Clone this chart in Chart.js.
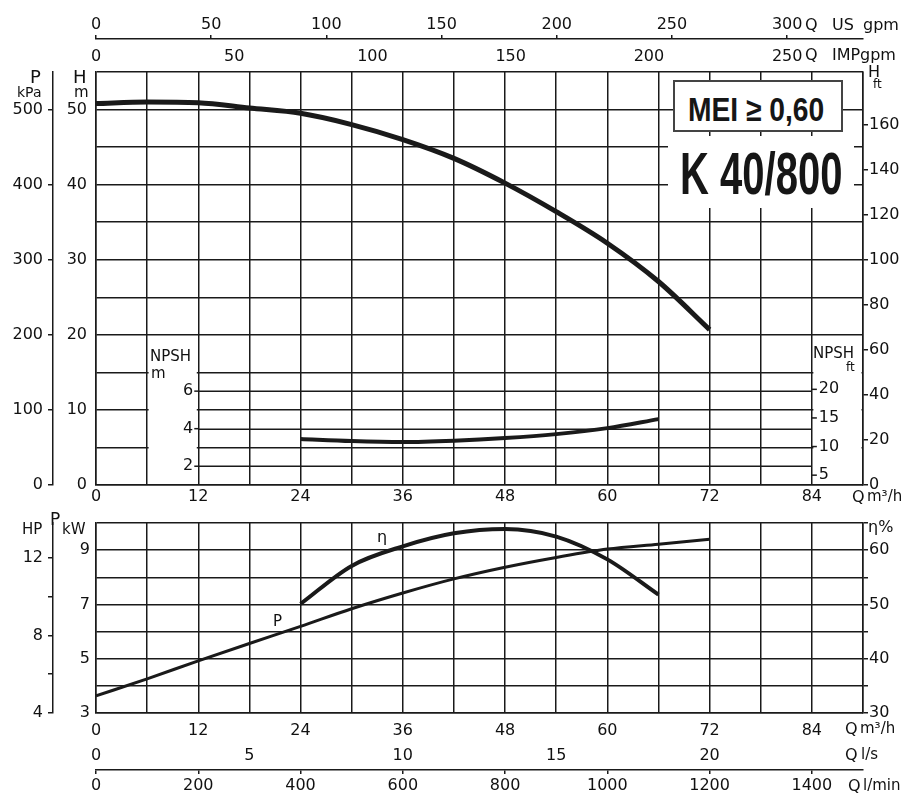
<!DOCTYPE html>
<html>
<head>
<meta charset="utf-8">
<script src="https://cdn.jsdelivr.net/npm/chart.js"></script>
<style>
html,body{margin:0;padding:0;background:#fff;width:915px;height:795px;overflow:hidden;}
body{font-family:"DejaVu Sans",sans-serif;color:#111;position:relative;}
#top{position:absolute;left:0;top:0;width:915px;height:510px;}
#bot{position:absolute;left:0;top:505px;width:915px;height:290px;}
.t{position:absolute;white-space:nowrap;line-height:1;font-size:16px;}
.s15{font-size:15px}.s14{font-size:14px}.s12{font-size:12px}.s18{font-size:18px}.s17{font-size:17px}
#mei{position:absolute;left:673px;top:80px;width:170px;height:52px;box-sizing:border-box;border:2px solid #444;background:#fff;}
#meiTxt{position:absolute;left:688px;top:93px;font:bold 33px "Liberation Sans",sans-serif;line-height:1;color:#161616;white-space:nowrap;transform:scaleX(0.855);transform-origin:0 0;}
#kbox{position:absolute;left:668px;top:136px;width:186px;height:72px;background:#fff;}
#kTxt{position:absolute;left:680px;top:144px;font:bold 60px "Liberation Sans",sans-serif;line-height:1;color:#161616;white-space:nowrap;transform:scaleX(0.667);transform-origin:0 0;}
</style>
</head>
<body>
<div id="top"><canvas id="c1"></canvas></div>
<div id="bot"><canvas id="c2"></canvas></div>

<div class="t" style="left:805px;top:17px">Q</div>
<div class="t" style="left:832px;top:17px">US</div>
<div class="t" style="left:863px;top:17px">gpm</div>
<div class="t" style="left:805px;top:47px">Q</div>
<div class="t" style="left:832px;top:47px">IMP</div>
<div class="t" style="left:860px;top:47px">gpm</div>

<div class="t s18" style="left:30px;top:68px">P</div>
<div class="t s14" style="left:17px;top:85px">kPa</div>
<div class="t s18" style="left:73px;top:68px">H</div>
<div class="t s15" style="left:74px;top:85px">m</div>
<div class="t" style="left:868px;top:64px">H</div>
<div class="t s12" style="left:873px;top:78px">ft</div>

<div class="t s15" style="left:150px;top:349px">NPSH</div>
<div class="t s15" style="left:151px;top:366px">m</div>
<div class="t s15" style="left:813px;top:346px">NPSH</div>
<div class="t s12" style="left:846px;top:361px">ft</div>

<div class="t" style="left:852px;top:489px">Q</div>
<div class="t s15" style="left:867px;top:489px">m³/h</div>

<div class="t s15" style="left:22px;top:522px">HP</div>
<div class="t s17" style="left:50px;top:511px">P</div>
<div class="t s15" style="left:62px;top:522px">kW</div>
<div class="t" style="left:868px;top:519px">η%</div>
<div class="t" style="left:377px;top:529px">η</div>
<div class="t s15" style="left:273px;top:614px">P</div>

<div class="t" style="left:845px;top:721px">Q</div>
<div class="t s15" style="left:860px;top:721px">m³/h</div>
<div class="t" style="left:845px;top:747px">Q</div>
<div class="t s15" style="left:861px;top:747px">l/s</div>
<div class="t" style="left:848px;top:778px">Q</div>
<div class="t s15" style="left:863px;top:778px">l/min</div>

<div id="mei"></div>
<div id="meiTxt">MEI ≥ 0,60</div>
<div id="kbox"></div>
<div id="kTxt">K 40/800</div>

<script>
// ---------------- data ----------------
const flowQ   = [0, 6, 12, 18, 24, 30, 36, 42, 48, 54, 60, 66, 72];
const headH   = [50.8, 51.0, 50.9, 50.2, 49.5, 48.0, 46.0, 43.5, 40.2, 36.4, 32.2, 27.1, 20.7];

const npshQ   = [24, 30, 36, 42, 48, 54, 60, 66];
const npshM   = [3.45, 3.34, 3.29, 3.36, 3.50, 3.71, 4.03, 4.51];

const powerQ  = [0, 6, 12, 18, 24, 30, 36, 42, 48, 54, 60, 66, 72];
const powerKW = [3.63, 4.26, 4.92, 5.56, 6.19, 6.84, 7.42, 7.94, 8.37, 8.73, 9.04, 9.22, 9.40];

const effQ    = [24, 30, 36, 42, 48, 54, 60, 66];
const effPct  = [50.1, 57.1, 60.7, 63.1, 63.9, 62.5, 58.3, 51.8];

// ---------------- tick labels ----------------
const qLabels      = [0, 12, 24, 36, 48, 60, 72, 84];
const usGpmTicks   = [0, 50, 100, 150, 200, 250, 300];
const impGpmTicks  = [0, 50, 100, 150, 200, 250];
const kPaTicks     = [0, 100, 200, 300, 400, 500];
const hLabels      = [0, 10, 20, 30, 40, 50];
const ftTicks      = [0, 20, 40, 60, 80, 100, 120, 140, 160];
const npshMTicks   = [2, 4, 6];
const npshFtTicks  = [5, 10, 15, 20];
const npshGrid     = [2, 4, 6];
const kwLabels     = [3, 5, 7, 9];
const hpTicks      = [4, 6, 8, 10, 12];
const hpLabels     = [4, 8, 12];
const etaLabels    = [30, 40, 50, 60];
const lsTicks      = [0, 5, 10, 15, 20];
const lminTicks    = [0, 200, 400, 600, 800, 1000, 1200, 1400];

// ---------------- axis ranges / conversions ----------------
const Q_MAX = 90;
const H_MAX = 55;
const US_GPM_PER_Q  = 300 / 81.1;   // as printed on the sheet
const IMP_GPM_PER_Q = 250 / 81.1;
const KPA_PER_M = 10;
const FT_AXIS_MAX = 183.5;          // printed ft scale
const FT_PER_M = 3.28084;
const NPSH_MIN = 1, NPSH_MAX = 23;  // inset NPSH scale relative to H
const KW_MIN = 3, KW_MAX = 10;
const HP_MIN = 4, HP_MAX = 13.8;
const ETA_MIN = 30, ETA_MAX = 65;
const LS_PER_Q = 1 / 3.6;
const LMIN_PER_Q = 1000 / 60;
const NPSH_M_AXIS_Q = 12;
const NPSH_FT_LABEL_Q = 87.2;
const NPSH_FT_AXIS_Q = 84;
const insetGaps = [[6, 12], [84, 90]];
const INSET_TOP_H = 20;

// ---------------- styling ----------------
Chart.defaults.font.family = '"DejaVu Sans", sans-serif';
Chart.defaults.font.size = 16;
Chart.defaults.color = '#111';
const INK = '#1a1a1a';
const GW = 1.5;
const grid = (extra) => Object.assign({color: INK, lineWidth: GW, tickColor: INK}, extra || {});
const border = (show) => ({display: show, color: INK, width: GW});
const fixH = h => s => { s.height = h; };
const fixW = w => s => { s.width = w; };
const setTicks = arr => s => { s.ticks = arr.map(v => ({value: v})); };
const pts = (xs, ys) => xs.map((x, i) => ({x: x, y: ys[i]}));
const noRot = {maxRotation: 0, minRotation: 0, autoSkip: false};
const plain = v => String(v);

const curve = (data, yAxisID, w) => ({
  data: data, xAxisID: 'x', yAxisID: yAxisID, borderColor: INK, borderWidth: w,
  pointRadius: 0, fill: false, cubicInterpolationMode: 'monotone', borderCapStyle: 'butt'
});

// plugin: blank inset gaps, draw the NPSH partial grid and small ticks
const insetPlugin = {
  id: 'inset',
  beforeDatasetsDraw(chart) {
    const {ctx, scales} = chart;
    const x = scales.x, yH = scales.yH, yN = scales.yN, yNft = scales.yNft;
    ctx.save();
    ctx.fillStyle = '#fff';
    for (const g of insetGaps) {
      const l = x.getPixelForValue(g[0]) + 1.5, r = x.getPixelForValue(g[1]) - 1.5;
      const t = yH.getPixelForValue(INSET_TOP_H) + 1.5, b = yH.getPixelForValue(0) - 1.5;
      ctx.fillRect(l, t, r - l, b - t);
    }
    ctx.strokeStyle = INK;
    ctx.lineWidth = GW;
    const x0 = x.getPixelForValue(insetGaps[0][1]);
    const x1 = x.getPixelForValue(insetGaps[1][0]);
    for (const v of npshGrid) {
      const y = Math.round(yN.getPixelForValue(v)) + 0.25;
      ctx.beginPath(); ctx.moveTo(x0, y); ctx.lineTo(x1, y); ctx.stroke();
    }
    const xa = x.getPixelForValue(NPSH_FT_AXIS_Q);
    for (const v of npshFtTicks) {
      const y = yNft.getPixelForValue(v);
      ctx.beginPath(); ctx.moveTo(xa, y); ctx.lineTo(xa + 5, y); ctx.stroke();
    }
    const xm = x.getPixelForValue(NPSH_M_AXIS_Q);
    for (const v of npshMTicks) {
      const y = yN.getPixelForValue(v);
      ctx.beginPath(); ctx.moveTo(xm - 4, y); ctx.lineTo(xm, y); ctx.stroke();
    }
    ctx.restore();
  }
};

// ---------------- upper chart: H, NPSH ----------------
new Chart(document.getElementById('c1'), {
  type: 'line',
  data: {datasets: [
    curve(pts(flowQ, headH), 'yH', 5),
    curve(pts(npshQ, npshM), 'yN', 4)
  ]},
  options: {
    responsive: true, maintainAspectRatio: false, animation: false,
    layout: {padding: 0},
    plugins: {legend: {display: false}, tooltip: {enabled: false}},
    scales: {
      x: {type: 'linear', position: 'bottom', weight: 0, min: 0, max: Q_MAX,
          ticks: Object.assign({stepSize: 6, padding: 2, callback: v => qLabels.includes(v) ? String(v) : ''}, noRot),
          grid: grid({drawTicks: false}), border: border(true), afterFit: fixH(25)},
      xIMP: {type: 'linear', position: 'top', weight: 1, min: 0, max: Q_MAX * IMP_GPM_PER_Q,
          afterBuildTicks: setTicks(impGpmTicks),
          ticks: Object.assign({padding: 6, callback: plain}, noRot),
          grid: {display: false, drawTicks: false}, border: border(false), afterFit: fixH(33)},
      xUS: {type: 'linear', position: 'top', weight: 2, min: 0, max: Q_MAX * US_GPM_PER_Q,
          afterBuildTicks: setTicks(usGpmTicks),
          ticks: Object.assign({padding: 1, callback: plain}, noRot),
          grid: grid({drawOnChartArea: false, tickLength: 4}), border: border(true), afterFit: fixH(39)},
      yH: {type: 'linear', position: 'left', weight: 0, min: 0, max: H_MAX,
          ticks: {stepSize: 5, padding: 9, autoSkip: false, callback: v => hLabels.includes(v) ? String(v) : ''},
          grid: grid({drawTicks: false}), border: border(true), afterFit: fixW(43)},
      yP: {type: 'linear', position: 'left', weight: 1, min: 0, max: H_MAX * KPA_PER_M,
          afterBuildTicks: setTicks(kPaTicks),
          ticks: {padding: 5, autoSkip: false, callback: plain},
          grid: grid({drawOnChartArea: false, tickLength: 5}), border: border(true), afterFit: fixW(53)},
      yFt: {type: 'linear', position: 'right', weight: 0, min: 0, max: FT_AXIS_MAX,
          afterBuildTicks: setTicks(ftTicks),
          ticks: {padding: 1, autoSkip: false, callback: plain},
          grid: grid({drawOnChartArea: false, tickLength: 5}), border: border(true), afterFit: fixW(52)},
      yN: {type: 'linear', position: {x: NPSH_M_AXIS_Q}, min: NPSH_MIN, max: NPSH_MAX,
          afterBuildTicks: setTicks(npshMTicks),
          ticks: {padding: 0, z: 1, autoSkip: false, callback: v => v + ' '},
          grid: {display: false, drawTicks: false}, border: {display: false}},
      yNft: {type: 'linear', position: {x: NPSH_FT_LABEL_Q}, min: NPSH_MIN * FT_PER_M, max: NPSH_MAX * FT_PER_M,
          afterBuildTicks: setTicks(npshFtTicks),
          ticks: {padding: 0, z: 1, autoSkip: false, callback: v => v < 10 ? v + '\u2007' : String(v)},
          grid: {display: false, drawTicks: false}, border: {display: false}}
    }
  },
  plugins: [insetPlugin]
});

// ---------------- lower chart: P, efficiency ----------------
new Chart(document.getElementById('c2'), {
  type: 'line',
  data: {datasets: [
    curve(pts(powerQ, powerKW), 'yKW', 3),
    curve(pts(effQ, effPct), 'yEta', 4)
  ]},
  options: {
    responsive: true, maintainAspectRatio: false, animation: false,
    layout: {padding: {top: 18, left: 0, right: 0, bottom: 0}},
    plugins: {legend: {display: false}, tooltip: {enabled: false}},
    scales: {
      x: {type: 'linear', position: 'bottom', weight: 0, min: 0, max: Q_MAX,
          ticks: Object.assign({stepSize: 6, padding: 8, callback: v => qLabels.includes(v) ? String(v) : ''}, noRot),
          grid: grid({drawTicks: false}), border: border(true), afterFit: fixH(28)},
      xLs: {type: 'linear', position: 'bottom', weight: 1, min: 0, max: Q_MAX * LS_PER_Q,
          afterBuildTicks: setTicks(lsTicks),
          ticks: Object.assign({padding: 5, callback: plain}, noRot),
          grid: {display: false, drawTicks: false}, border: border(false), afterFit: fixH(29)},
      xLmin: {type: 'linear', position: 'bottom', weight: 2, min: 0, max: Q_MAX * LMIN_PER_Q,
          afterBuildTicks: setTicks(lminTicks),
          ticks: Object.assign({padding: 2, callback: plain}, noRot),
          grid: grid({drawOnChartArea: false, tickLength: 4}), border: border(true), afterFit: fixH(25)},
      yKW: {type: 'linear', position: 'left', weight: 0, min: KW_MIN, max: KW_MAX,
          ticks: {stepSize: 1, padding: 6, autoSkip: false, callback: v => kwLabels.includes(v) ? String(v) : ''},
          grid: grid({drawTicks: false}), border: border(true), afterFit: fixW(43)},
      yHP: {type: 'linear', position: 'left', weight: 1, min: HP_MIN, max: HP_MAX,
          afterBuildTicks: setTicks(hpTicks),
          ticks: {padding: 5, autoSkip: false, callback: v => hpLabels.includes(v) ? String(v) : ''},
          grid: grid({drawOnChartArea: false, tickLength: 5}), border: border(true), afterFit: fixW(53)},
      yEta: {type: 'linear', position: 'right', weight: 0, min: ETA_MIN, max: ETA_MAX,
          ticks: {stepSize: 5, padding: 1, autoSkip: false, callback: v => etaLabels.includes(v) ? String(v) : ''},
          grid: grid({drawOnChartArea: false, tickLength: 5}), border: border(true), afterFit: fixW(52)}
    }
  }
});
</script>
</body>
</html>
